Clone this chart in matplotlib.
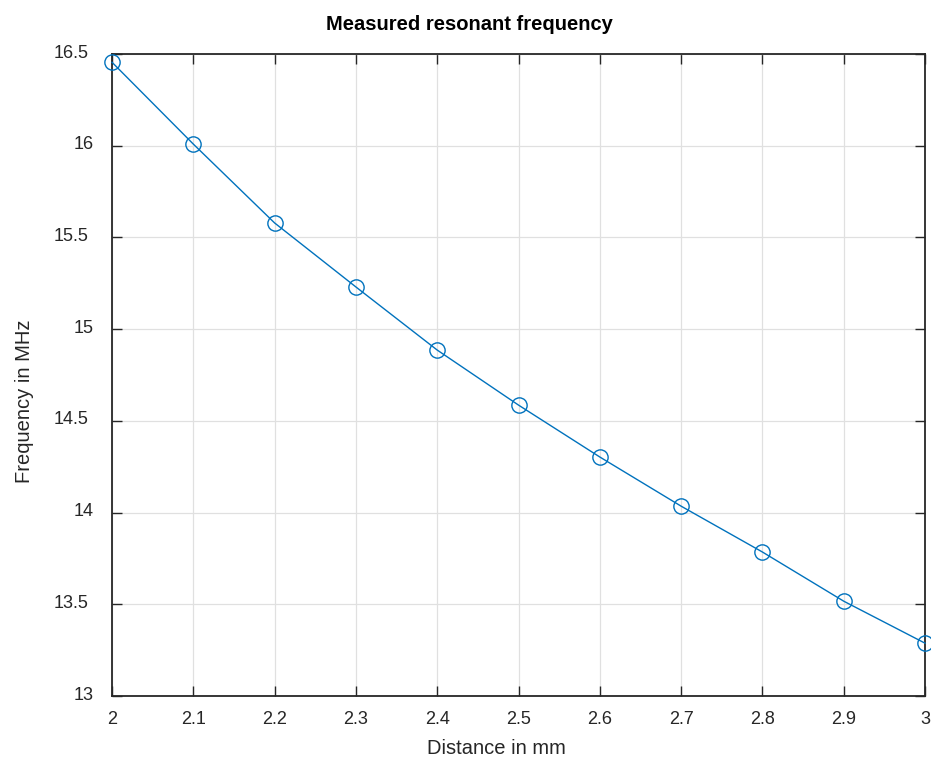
import matplotlib
matplotlib.use("Agg")
import matplotlib.pyplot as plt
import matplotlib.transforms as mtransforms

# values
distance_mm = [2.0, 2.1, 2.2, 2.3, 2.4, 2.5, 2.6, 2.7, 2.8, 2.9, 3.0]
freq_mhz = [16.455, 16.009, 15.579, 15.230, 14.886, 14.586, 14.303, 14.035, 13.785, 13.517, 13.288]
x_ticks = [2.0, 2.1, 2.2, 2.3, 2.4, 2.5, 2.6, 2.7, 2.8, 2.9, 3.0]
x_ticklabels = ["2", "2.1", "2.2", "2.3", "2.4", "2.5", "2.6", "2.7", "2.8", "2.9", "3"]
y_ticks = [13.0, 13.5, 14.0, 14.5, 15.0, 15.5, 16.0, 16.5]
y_ticklabels = ["13", "13.5", "14", "14.5", "15", "15.5", "16", "16.5"]

plt.rcParams["font.family"] = ["Liberation Sans", "DejaVu Sans"]

W, H = 931, 760
fig = plt.figure(figsize=(W / 100, H / 100), dpi=100)
ax = fig.add_axes([112 / W, 1 - 696 / H, 813 / W, 642 / H])

ax.plot(distance_mm, freq_mhz, color="#0072BD", linewidth=1.0, marker="o",
        markersize=11, markerfacecolor="none", markeredgecolor="#0072BD",
        markeredgewidth=1.0, clip_on=False, zorder=3)

ax.set_xlim(2.0, 3.0)
ax.set_ylim(13.0, 16.5)
ax.set_xticks(x_ticks)
ax.set_xticklabels(x_ticklabels)
ax.set_yticks(y_ticks)
ax.set_yticklabels(y_ticklabels)

ax.grid(True, color="#e0e0e0", linewidth=0.9)
ax.set_axisbelow(True)
for s in ax.spines.values():
    s.set_color("#262626")
    s.set_linewidth(1.3)

ax.tick_params(direction="in", length=7, width=1.0, color="#262626",
               top=True, right=True, labelsize=13, labelcolor="#262626")
ax.tick_params(axis="x", pad=11)
ax.tick_params(axis="y", pad=13)

# shift y labels up a bit, and half-steps slightly further left, like the original
for lab in ax.get_yticklabels():
    dx = -5 if ".5" in lab.get_text() else 0
    off = mtransforms.ScaledTranslation(dx / 100, 3 / 100, fig.dpi_scale_trans)
    lab.set_transform(lab.get_transform() + off)

fig.text(496 / W, 1 - 749 / H, "Distance in mm", fontsize=14.5, color="#262626",
         ha="center", va="center")
fig.text(25 / W, 1 - 401 / H, "Frequency in MHz", fontsize=14.5, color="#262626",
         ha="center", va="center", rotation=90)
fig.text(469 / W, 1 - 24 / H, "Measured resonant frequency", fontsize=14.5,
         fontweight="bold", color="black", ha="center", va="center")

fig.savefig("out.png", dpi=100)
